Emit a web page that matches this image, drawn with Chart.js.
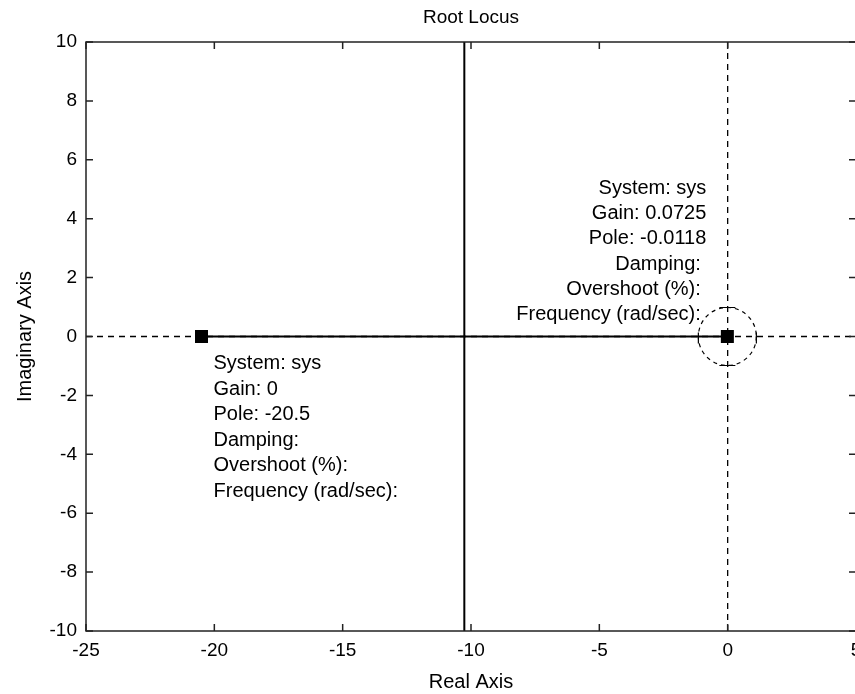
<!DOCTYPE html>
<html>
<head>
<meta charset="utf-8">
<script src="https://cdn.jsdelivr.net/npm/chart.js@4"></script>
<style>
    html, body { margin: 0; padding: 0; background: #fff; }
    #wrap { width: 855px; height: 694px; overflow: hidden; }
</style>
</head>
<body>
<div id="wrap"><canvas id="myChart" width="870" height="694"></canvas></div>
<script>
// root locus data
const poles = [-20.5, -0.0118];
const breakaway = -10.26;
const xTicks = [-25, -20, -15, -10, -5, 0, 5];
const yTicks = [-10, -8, -6, -4, -2, 0, 2, 4, 6, 8, 10];

// data tips
const tipLeft = ['System: sys', 'Gain: 0', 'Pole: -20.5', 'Damping:', 'Overshoot (%):', 'Frequency (rad/sec):'];
const tipRight = ['System: sys', 'Gain: 0.0725', 'Pole: -0.0118', 'Damping: ', 'Overshoot (%): ', 'Frequency (rad/sec): '];

Chart.defaults.font.family = 'Arial, "Liberation Sans", sans-serif';
Chart.defaults.font.size = 19;
Chart.defaults.color = '#000';

const boxPlugin = {
    id: 'box',
    afterDraw(chart) {
        const ctx = chart.ctx;
        const a = chart.chartArea;
        const x = chart.scales.x, y = chart.scales.y;
        ctx.save();
        ctx.strokeStyle = '#222';
        ctx.lineWidth = 1.5;
        ctx.strokeRect(a.left, a.top, a.right - a.left, a.bottom - a.top);
        ctx.beginPath();
        xTicks.forEach(v => {
            const px = x.getPixelForValue(v);
            ctx.moveTo(px, a.bottom); ctx.lineTo(px, a.bottom - 7);
            ctx.moveTo(px, a.top); ctx.lineTo(px, a.top + 7);
        });
        yTicks.forEach(v => {
            const py = y.getPixelForValue(v);
            ctx.moveTo(a.left, py); ctx.lineTo(a.left + 7, py);
            ctx.moveTo(a.right, py); ctx.lineTo(a.right - 7, py);
        });
        ctx.stroke();

        // data cursor marker round the right pole
        const cx = x.getPixelForValue(poles[1]);
        const cy = y.getPixelForValue(0);
        const r = 29;
        ctx.strokeStyle = '#000';
        ctx.lineWidth = 1.2;
        ctx.setLineDash([4, 4]);
        ctx.beginPath();
        ctx.arc(cx, cy, r, 0, Math.PI * 2);
        ctx.stroke();
        ctx.setLineDash([]);
        ctx.beginPath();
        ctx.moveTo(cx - 8, cy - r); ctx.lineTo(cx + 8, cy - r);
        ctx.moveTo(cx - 8, cy + r); ctx.lineTo(cx + 8, cy + r);
        ctx.moveTo(cx - r, cy - 4); ctx.lineTo(cx - r, cy + 7);
        ctx.moveTo(cx + r, cy - 4); ctx.lineTo(cx + r, cy + 7);
        ctx.stroke();

        // data tip texts
        ctx.fillStyle = '#000';
        ctx.font = '20px Arial, "Liberation Sans", sans-serif';
        ctx.textBaseline = 'middle';
        const lx = x.getPixelForValue(poles[0]);
        ctx.textAlign = 'left';
        tipLeft.forEach((t, i) => ctx.fillText(t, lx + 12, cy + 27 + i * 25.6));
        ctx.textAlign = 'right';
        tipRight.forEach((t, i) => ctx.fillText(t, cx - 21, cy - 148 + i * 25.2));
        ctx.restore();
    }
};

const data = {
    datasets: [
        {
            label: 'poles',
            data: poles.map(p => ({ x: p, y: 0 })),
            showLine: false,
            pointStyle: 'rect',
            pointRadius: 9.2,
            backgroundColor: '#000',
            borderColor: '#000',
            borderWidth: 0
        },
        {
            label: 'real branch',
            data: [{ x: poles[0], y: 0 }, { x: poles[1], y: 0 }],
            showLine: true,
            borderColor: '#000',
            borderWidth: 2,
            pointRadius: 0
        },
        {
            label: 'upper branch',
            data: [{ x: breakaway, y: 0 }, { x: breakaway, y: 10 }],
            showLine: true,
            borderColor: '#000',
            borderWidth: 2,
            pointRadius: 0
        },
        {
            label: 'lower branch',
            data: [{ x: breakaway, y: 0 }, { x: breakaway, y: -10 }],
            showLine: true,
            borderColor: '#000',
            borderWidth: 2,
            pointRadius: 0
        },
        {
            label: 'real axis',
            data: [{ x: -25, y: 0 }, { x: 5, y: 0 }],
            showLine: true,
            borderColor: '#000',
            borderWidth: 1.3,
            borderDash: [6, 5],
            pointRadius: 0
        },
        {
            label: 'imag axis',
            data: [{ x: 0, y: -10 }, { x: 0, y: 10 }],
            showLine: true,
            borderColor: '#000',
            borderWidth: 1.3,
            borderDash: [6, 5],
            pointRadius: 0
        }
    ]
};

const config = {
    type: 'scatter',
    data: data,
    options: {
        responsive: false,
        animation: false,
        layout: { padding: { left: 0, right: 14, top: 0, bottom: 0 } },
        scales: {
            x: {
                type: 'linear',
                min: -25,
                max: 5,
                afterBuildTicks: s => { s.ticks = xTicks.map(v => ({ value: v })); },
                afterFit: s => { s.height = 63; },
                grid: { drawOnChartArea: false, drawTicks: false },
                border: { display: false },
                ticks: { padding: 8, maxRotation: 0 },
                title: { display: true, text: 'Real Axis', font: { size: 20 }, padding: { top: 0, bottom: 0 } }
            },
            // top scale only carries the title, so it centres over the plot
            top: {
                type: 'linear',
                position: 'top',
                min: -25,
                max: 5,
                afterFit: s => { s.height = 42; },
                grid: { display: false, drawTicks: false },
                border: { display: false },
                ticks: { display: false },
                title: { display: true, text: 'Root Locus', font: { size: 19 }, padding: { top: 6, bottom: 0 } }
            },
            y: {
                type: 'linear',
                min: -10,
                max: 10,
                afterBuildTicks: s => { s.ticks = yTicks.map(v => ({ value: v })); },
                afterFit: s => { s.width = 86; },
                grid: { drawOnChartArea: false, drawTicks: false },
                border: { display: false },
                ticks: { padding: 9 },
                title: { display: true, text: 'Imaginary Axis', font: { size: 20 }, padding: { top: 13, bottom: 0 } }
            }
        },
        plugins: {
            legend: { display: false },
            tooltip: { enabled: false },
            title: { display: false }
        }
    },
    plugins: [boxPlugin]
};

const myChart = new Chart(document.getElementById('myChart'), config);
</script>
</body>
</html>
